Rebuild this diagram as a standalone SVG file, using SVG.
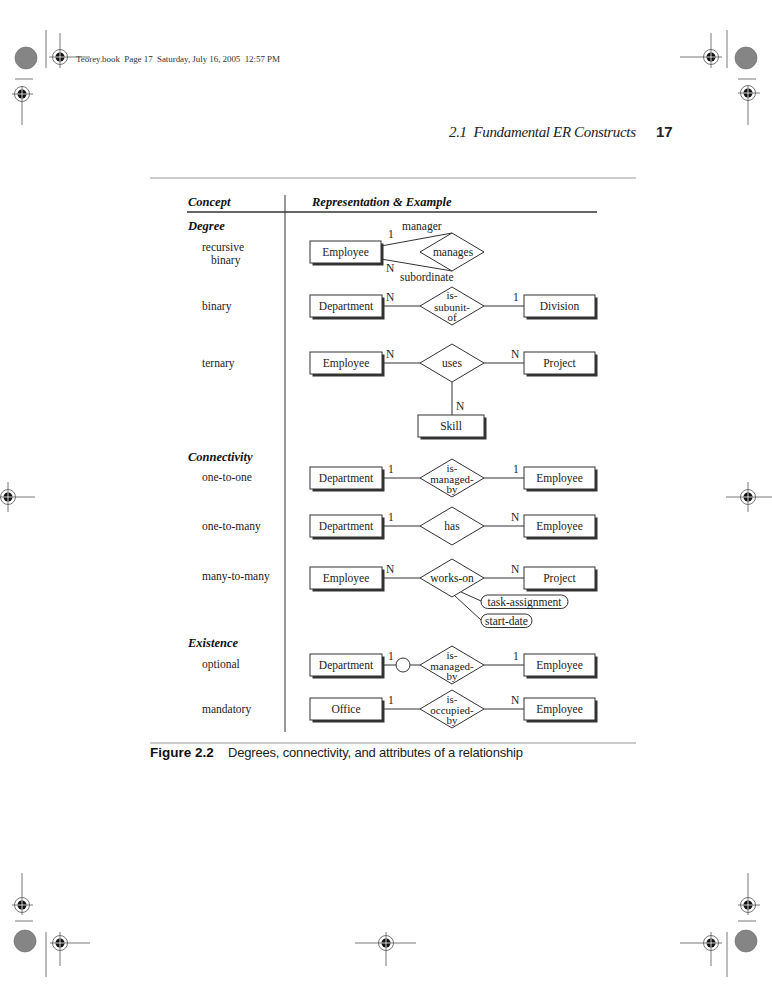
<svg xmlns="http://www.w3.org/2000/svg" width="772" height="1000" viewBox="0 0 772 1000">
<style>
.t{font-family:"Liberation Serif","Times New Roman",serif;font-size:11.5px;fill:#222}
.m{text-anchor:middle}
.d{font-size:11px}
.h{font-family:"Liberation Serif","Times New Roman",serif;font-size:12.5px;font-weight:bold;font-style:italic;fill:#111}
.box{fill:#fff;stroke:#333;stroke-width:1}
.sh{fill:#333}
.dia{fill:#fff;stroke:#333;stroke-width:1}
.ln{stroke:#333;stroke-width:1;fill:none}
.rule{stroke:#999;stroke-width:1}
.reg{stroke:#555;stroke-width:0.8;fill:none}
.gc{fill:#858585;stroke:#6a6a6a;stroke-width:0.6}
</style>
<defs>
<g id="xh">
<circle r="7.5" class="reg"/>
<circle r="4.5" fill="#111"/>
<line x1="-4.5" y1="0" x2="4.5" y2="0" stroke="#fff" stroke-width="0.8"/>
<line x1="0" y1="-4.5" x2="0" y2="4.5" stroke="#fff" stroke-width="0.8"/>
</g>
</defs>
<rect width="772" height="1000" fill="#fff"/>

<!-- printer marks -->
<g id="marks">
<circle cx="26" cy="58" r="11" class="gc"/>
<line x1="46" y1="30" x2="46" y2="68" class="reg"/>
<line x1="60" y1="33" x2="60" y2="68" class="reg"/>
<line x1="49" y1="57" x2="90" y2="57" class="reg"/>
<use href="#xh" x="60" y="57"/>
<line x1="15" y1="79" x2="33" y2="79" class="reg"/>
<line x1="22" y1="86" x2="22" y2="125" class="reg"/>
<line x1="12" y1="94" x2="33" y2="94" class="reg"/>
<use href="#xh" x="22" y="94"/>

<line x1="680" y1="57" x2="722" y2="57" class="reg"/>
<line x1="711" y1="33" x2="711" y2="68" class="reg"/>
<use href="#xh" x="711" y="57"/>
<line x1="727" y1="30" x2="727" y2="68" class="reg"/>
<circle cx="746" cy="58" r="11" class="gc"/>
<line x1="738" y1="79" x2="756" y2="79" class="reg"/>
<line x1="748" y1="86" x2="748" y2="125" class="reg"/>
<line x1="738" y1="93" x2="760" y2="93" class="reg"/>
<use href="#xh" x="748" y="93"/>

<line x1="0" y1="497" x2="35" y2="497" class="reg"/>
<line x1="8" y1="482" x2="8" y2="512" class="reg"/>
<use href="#xh" x="8" y="497"/>
<line x1="726" y1="497" x2="772" y2="497" class="reg"/>
<line x1="748" y1="482" x2="748" y2="512" class="reg"/>
<use href="#xh" x="748" y="497"/>

<line x1="22" y1="873" x2="22" y2="915" class="reg"/>
<line x1="12" y1="905" x2="33" y2="905" class="reg"/>
<use href="#xh" x="22" y="905"/>
<line x1="15" y1="921" x2="33" y2="921" class="reg"/>
<circle cx="25" cy="941" r="11" class="gc"/>
<line x1="46" y1="932" x2="46" y2="977" class="reg"/>
<line x1="50" y1="943" x2="90" y2="943" class="reg"/>
<line x1="60" y1="932" x2="60" y2="966" class="reg"/>
<use href="#xh" x="60" y="943"/>

<line x1="355" y1="943" x2="416" y2="943" class="reg"/>
<line x1="386" y1="932" x2="386" y2="966" class="reg"/>
<use href="#xh" x="386" y="943"/>

<line x1="680" y1="943" x2="722" y2="943" class="reg"/>
<line x1="711" y1="932" x2="711" y2="966" class="reg"/>
<use href="#xh" x="711" y="943"/>
<line x1="727" y1="932" x2="727" y2="977" class="reg"/>
<circle cx="746" cy="941" r="11" class="gc"/>
<line x1="738" y1="921" x2="756" y2="921" class="reg"/>
<line x1="748" y1="873" x2="748" y2="915" class="reg"/>
<line x1="738" y1="905" x2="760" y2="905" class="reg"/>
<use href="#xh" x="748" y="905"/>
</g>

<text x="76" y="62" font-family="Liberation Serif, serif" font-size="9" fill="#333" textLength="204" lengthAdjust="spacing">Teorey.book&#160; Page 17&#160; Saturday, July 16, 2005&#160; 12:57 PM</text>

<!-- page header -->
<text x="449" y="137" font-family="Liberation Serif, serif" font-style="italic" font-size="15" fill="#222" textLength="187" lengthAdjust="spacing">2.1&#160; Fundamental ER Constructs</text>
<text x="656" y="137" font-family="Liberation Sans, sans-serif" font-weight="bold" font-size="15" fill="#222">17</text>

<!-- table frame -->
<line x1="150" y1="178" x2="636" y2="178" class="rule"/>
<text x="188" y="206" class="h">Concept</text>
<text x="312" y="206" class="h">Representation &amp; Example</text>
<line x1="187" y1="212" x2="597" y2="212" stroke="#333" stroke-width="1.5"/>
<line x1="285" y1="195" x2="285" y2="732" stroke="#333" stroke-width="1"/>
<line x1="150" y1="743" x2="636" y2="743" class="rule"/>

<!-- left labels -->
<g id="labels">
<text x="188" y="230" class="h">Degree</text>
<text x="202" y="251" class="t">recursive</text>
<text x="211" y="264" class="t">binary</text>
<text x="202" y="310" class="t">binary</text>
<text x="202" y="367" class="t">ternary</text>
<text x="188" y="461" class="h">Connectivity</text>
<text x="202" y="481" class="t">one-to-one</text>
<text x="202" y="530" class="t">one-to-many</text>
<text x="202" y="580" class="t">many-to-many</text>
<text x="188" y="647" class="h">Existence</text>
<text x="202" y="668" class="t">optional</text>
<text x="202" y="713" class="t">mandatory</text>
</g>

<!-- connectors -->
<g id="connectors">
<line x1="381" y1="246" x2="452" y2="233" class="ln"/>
<line x1="381" y1="259" x2="452" y2="271" class="ln"/>
<line x1="382" y1="306" x2="420" y2="306" class="ln"/>
<line x1="484" y1="306" x2="524" y2="306" class="ln"/>
<line x1="382" y1="363" x2="420" y2="363" class="ln"/>
<line x1="484" y1="363" x2="524" y2="363" class="ln"/>
<line x1="452" y1="382" x2="452" y2="415" class="ln"/>
<line x1="382" y1="478" x2="420" y2="478" class="ln"/>
<line x1="484" y1="478" x2="524" y2="478" class="ln"/>
<line x1="382" y1="526" x2="420" y2="526" class="ln"/>
<line x1="484" y1="526" x2="524" y2="526" class="ln"/>
<line x1="382" y1="578" x2="420" y2="578" class="ln"/>
<line x1="484" y1="578" x2="524" y2="578" class="ln"/>
<line x1="461" y1="592" x2="481" y2="601" class="ln"/>
<line x1="455" y1="596" x2="481" y2="620" class="ln"/>
<line x1="382" y1="665" x2="396" y2="665" class="ln"/>
<line x1="410" y1="665" x2="420" y2="665" class="ln"/>
<circle cx="403" cy="665" r="7" fill="#fff" stroke="#333" stroke-width="1"/>
<line x1="484" y1="665" x2="524" y2="665" class="ln"/>
<line x1="382" y1="709" x2="420" y2="709" class="ln"/>
<line x1="484" y1="709" x2="524" y2="709" class="ln"/>
</g>

<!-- cardinality / role labels -->
<g id="cards">
<text x="402" y="230" class="t">manager</text>
<text x="388" y="238" class="t">1</text>
<text x="386" y="272" class="t">N</text>
<text x="400" y="281" class="t">subordinate</text>
<text x="386" y="301" class="t">N</text>
<text x="513" y="301" class="t">1</text>
<text x="386" y="358" class="t">N</text>
<text x="511" y="358" class="t">N</text>
<text x="456" y="410" class="t">N</text>
<text x="388" y="473" class="t">1</text>
<text x="513" y="473" class="t">1</text>
<text x="388" y="521" class="t">1</text>
<text x="511" y="521" class="t">N</text>
<text x="386" y="573" class="t">N</text>
<text x="511" y="573" class="t">N</text>
<text x="388" y="660" class="t">1</text>
<text x="513" y="660" class="t">1</text>
<text x="388" y="704" class="t">1</text>
<text x="511" y="704" class="t">N</text>
</g>

<!-- recursive -->
<g id="n-emp1"><rect x="312.5" y="243.5" width="71" height="22" class="sh"/><rect x="310" y="241" width="71" height="22" class="box"/><text x="345.5" y="256" class="t m">Employee</text></g>
<g id="r-manages"><polygon points="420,252 452,233 484,252 452,271" class="dia"/><text x="453" y="256" class="t m">manages</text></g>

<!-- binary -->
<g id="n-dept1"><rect x="312.5" y="297.5" width="72" height="22" class="sh"/><rect x="310" y="295" width="72" height="22" class="box"/><text x="346" y="310" class="t m">Department</text></g>
<g id="r-subunit"><polygon points="420,306 452,287 484,306 452,325" class="dia"/><text x="452" y="299" class="t d m">is-</text><text x="452" y="310.5" class="t d m">subunit-</text><text x="452" y="321" class="t d m">of</text></g>
<g id="n-div"><rect x="526.5" y="297.5" width="71" height="22" class="sh"/><rect x="524" y="295" width="71" height="22" class="box"/><text x="559.5" y="310" class="t m">Division</text></g>

<!-- ternary -->
<g id="n-emp2"><rect x="312.5" y="354.5" width="72" height="22" class="sh"/><rect x="310" y="352" width="72" height="22" class="box"/><text x="346" y="367" class="t m">Employee</text></g>
<g id="r-uses"><polygon points="420,363 452,344 484,363 452,382" class="dia"/><text x="452" y="367" class="t m">uses</text></g>
<g id="n-proj1"><rect x="526.5" y="354.5" width="71" height="22" class="sh"/><rect x="524" y="352" width="71" height="22" class="box"/><text x="559.5" y="367" class="t m">Project</text></g>
<g id="n-skill"><rect x="420.5" y="417.5" width="66" height="22" class="sh"/><rect x="418" y="415" width="66" height="22" class="box"/><text x="451" y="430" class="t m">Skill</text></g>

<!-- one-to-one -->
<g id="n-dept2"><rect x="312.5" y="469.5" width="72" height="22" class="sh"/><rect x="310" y="467" width="72" height="22" class="box"/><text x="346" y="482" class="t m">Department</text></g>
<g id="r-managed1"><polygon points="420,478 452,459 484,478 452,497" class="dia"/><text x="452" y="472" class="t d m">is-</text><text x="452" y="482.5" class="t d m">managed-</text><text x="452" y="493" class="t d m">by</text></g>
<g id="n-emp3"><rect x="526.5" y="469.5" width="71" height="22" class="sh"/><rect x="524" y="467" width="71" height="22" class="box"/><text x="559.5" y="482" class="t m">Employee</text></g>

<!-- one-to-many -->
<g id="n-dept3"><rect x="312.5" y="517.5" width="72" height="22" class="sh"/><rect x="310" y="515" width="72" height="22" class="box"/><text x="346" y="530" class="t m">Department</text></g>
<g id="r-has"><polygon points="420,526 452,507 484,526 452,545" class="dia"/><text x="452" y="530" class="t m">has</text></g>
<g id="n-emp4"><rect x="526.5" y="517.5" width="71" height="22" class="sh"/><rect x="524" y="515" width="71" height="22" class="box"/><text x="559.5" y="530" class="t m">Employee</text></g>

<!-- many-to-many -->
<g id="n-emp5"><rect x="312.5" y="569.5" width="72" height="22" class="sh"/><rect x="310" y="567" width="72" height="22" class="box"/><text x="346" y="582" class="t m">Employee</text></g>
<g id="r-workson"><polygon points="420,578 452,559 484,578 452,597" class="dia"/><text x="452" y="582" class="t m">works-on</text></g>
<g id="n-proj2"><rect x="526.5" y="569.5" width="71" height="22" class="sh"/><rect x="524" y="567" width="71" height="22" class="box"/><text x="559.5" y="582" class="t m">Project</text></g>
<g id="a-task"><rect x="481" y="595" width="87" height="13.5" rx="6.75" class="box"/><text x="524.5" y="605.5" class="t m">task-assignment</text></g>
<g id="a-start"><rect x="481" y="614" width="51" height="13.5" rx="6.75" class="box"/><text x="506.5" y="624.5" class="t m">start-date</text></g>

<!-- optional -->
<g id="n-dept4"><rect x="312.5" y="656.5" width="72" height="22" class="sh"/><rect x="310" y="654" width="72" height="22" class="box"/><text x="346" y="669" class="t m">Department</text></g>
<g id="r-managed2"><polygon points="420,665 452,646 484,665 452,684" class="dia"/><text x="452" y="659" class="t d m">is-</text><text x="452" y="669.5" class="t d m">managed-</text><text x="452" y="680" class="t d m">by</text></g>
<g id="n-emp6"><rect x="526.5" y="656.5" width="71" height="22" class="sh"/><rect x="524" y="654" width="71" height="22" class="box"/><text x="559.5" y="669" class="t m">Employee</text></g>

<!-- mandatory -->
<g id="n-office"><rect x="312.5" y="700.5" width="72" height="22" class="sh"/><rect x="310" y="698" width="72" height="22" class="box"/><text x="346" y="713" class="t m">Office</text></g>
<g id="r-occupied"><polygon points="420,709 452,690 484,709 452,728" class="dia"/><text x="452" y="703" class="t d m">is-</text><text x="452" y="713.5" class="t d m">occupied-</text><text x="452" y="724" class="t d m">by</text></g>
<g id="n-emp7"><rect x="526.5" y="700.5" width="71" height="22" class="sh"/><rect x="524" y="698" width="71" height="22" class="box"/><text x="559.5" y="713" class="t m">Employee</text></g>

<!-- caption -->
<text x="150" y="757" font-family="Liberation Sans, sans-serif" font-weight="bold" font-size="13.5" fill="#111">Figure 2.2</text>
<text x="228" y="757" font-family="Liberation Sans, sans-serif" font-size="13" fill="#222" textLength="295">Degrees, connectivity, and attributes of a relationship</text>
</svg>
